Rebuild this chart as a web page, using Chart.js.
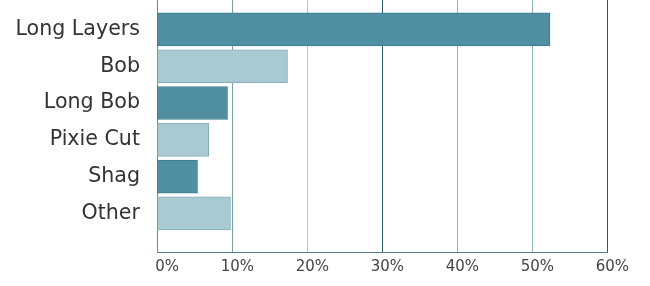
<!DOCTYPE html>
<html>
<head>
<meta charset="utf-8">
<script src="https://cdn.jsdelivr.net/npm/chart.js@4/dist/chart.umd.min.js"></script>
<style>
  html, body { margin: 0; padding: 0; background: #fff; }
  #wrap { width: 650px; height: 286px; position: relative; }
</style>
</head>
<body>
<div id="wrap"><canvas id="grafico"></canvas></div>
<script>
// dados
const categorias = ['Long Layers', 'Bob', 'Long Bob', 'Pixie Cut', 'Shag', 'Other'];
const valores = [52.4, 17.4, 9.4, 6.9, 5.4, 9.8];
const xTicks = [0, 10, 20, 30, 40, 50, 60];

// cores
const corEscura = '#4f8fa1';
const corClara = '#a9cad1';
const coresBarras = ['escura', 'clara', 'escura', 'clara', 'escura', 'clara'];
const coresGrade = ['#4f8090', '#75a2ab', '#aecbd0', '#2f5c6c', '#93b8bf', '#8fb5bd', '#2f5c6c'];

const pontos = categorias.map((c, i) => ({ x: valores[i], y: i }));

new Chart(document.getElementById('grafico'), {
    type: 'bar',
    data: {
        datasets: [{
            data: pontos,
            backgroundColor: coresBarras.map(t => t === 'escura' ? corEscura : corClara),
            borderColor: coresBarras.map(t => t === 'escura' ? '#3d7b8c' : '#86aeb8'),
            borderWidth: 1,
            borderSkipped: false,
            barThickness: 33
        }]
    },
    options: {
        indexAxis: 'y',
        responsive: true, maintainAspectRatio: false,
        animation: false,
        layout: { padding: { left: 0, right: 43, top: 0, bottom: 0 } },
        plugins: { legend: { display: false }, tooltip: { enabled: false } },
        scales: {
            x: {
                type: 'linear', min: 0, max: 60,
                afterBuildTicks: s => { s.ticks = xTicks.map(v => ({ value: v })); },
                afterFit: s => { s.height = 34; s.paddingLeft = 0; s.paddingRight = 0; },
                grid: {
                    drawTicks: false,
                    color: c => coresGrade[c.index] || '#93b8bf',
                    lineWidth: 1
                },
                border: { display: true, color: '#4f8090', width: 1 },
                ticks: {
                    align: 'end', labelOffset: 22, padding: 6,
                    color: '#444', font: { family: 'DejaVu Sans', size: 15 },
                    callback: v => v + '%'
                }
            },
            y: {
                type: 'linear', reverse: true, min: -0.8, max: 6.05,
                offset: false,
                afterBuildTicks: s => { s.ticks = categorias.map((c, i) => ({ value: i })); },
                afterFit: s => { s.width = 157; s.paddingTop = 0; s.paddingBottom = 0; },
                grid: { display: false, drawTicks: false, offset: false },
                border: { display: true, color: '#5f8f9c', width: 1 },
                ticks: {
                    padding: 17, color: '#333',
                    font: { family: 'DejaVu Sans', size: 20.6 },
                    callback: v => categorias[v]
                }
            }
        }
    }
});
</script>
</body>
</html>
